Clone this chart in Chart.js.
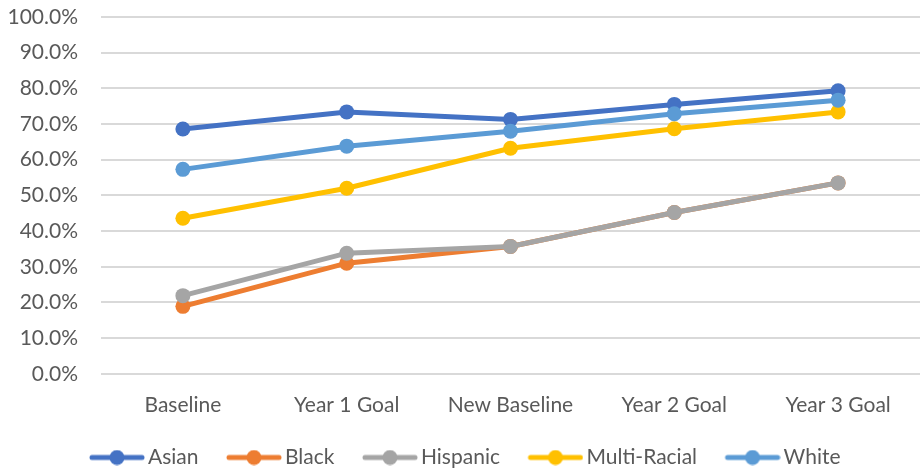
<!DOCTYPE html>
<html>
<head>
<meta charset="utf-8">
<script src="https://cdn.jsdelivr.net/npm/chart.js@4"></script>
<style>
  html, body { margin: 0; padding: 0; background: #fff; }
  #wrap { width: 920px; height: 473px; }
</style>
</head>
<body>
<div id="wrap"><canvas id="line_chart" width="920" height="473"></canvas></div>
<script>
// chart data
const categories = ["Baseline", "Year 1 Goal", "New Baseline", "Year 2 Goal", "Year 3 Goal"];
const series_names = ["Asian", "Black", "Hispanic", "Multi-Racial", "White"];
const asian_values = [68.6, 73.4, 71.3, 75.5, 79.3];
const black_values = [18.9, 31.0, 35.7, 45.2, 53.5];
const hispanic_values = [21.9, 33.8, 35.7, 45.2, 53.5];
const multi_values = [43.6, 52.0, 63.2, 68.7, 73.4];
const white_values = [57.3, 63.8, 68.0, 72.9, 76.7];
const y_ticks = [0, 10, 20, 30, 40, 50, 60, 70, 80, 90, 100];

const colors = ["#4472C4", "#ED7D31", "#A5A5A5", "#FFC000", "#5B9BD5"];
const all_values = [asian_values, black_values, hispanic_values, multi_values, white_values];

const font_family = 'Lato, "Open Sans", sans-serif';
const font_size = 21;

// legend marker: line with a dot, shifted right so it sits next to the text
const LEG_BOX = 58;
function legendMarker(color) {
  const c = document.createElement("canvas");
  c.width = LEG_BOX + 15;
  c.height = 16;
  const g = c.getContext("2d");
  const x0 = LEG_BOX - 41, x1 = x0 + 56;
  g.strokeStyle = color;
  g.lineWidth = 5;
  g.lineCap = "round";
  g.beginPath();
  g.moveTo(x0 + 3, 8);
  g.lineTo(x1 - 3, 8);
  g.stroke();
  g.fillStyle = color;
  g.beginPath();
  g.arc((x0 + x1) / 2, 8, 7.5, 0, Math.PI * 2);
  g.fill();
  return c;
}

const datasets = series_names.map((name, i) => ({
  label: name,
  data: all_values[i],
  borderColor: colors[i],
  backgroundColor: colors[i],
  borderWidth: 5,
  pointRadius: 7.5,
  pointHoverRadius: 7.5,
  pointBorderWidth: 0,
  fill: false,
  tension: 0,
  order: series_names.length - i,
}));

const ctx = document.getElementById("line_chart").getContext("2d");
const my_chart = new Chart(ctx, {
  type: "line",
  data: { labels: categories, datasets: datasets },
  options: {
    responsive: false,
    animation: false,
    layout: { autoPadding: false, padding: { top: 0, right: 0, bottom: -5, left: 0 } },
    scales: {
      x: {
        offset: true,
        grid: { display: false },
        border: { display: false },
        afterFit: (axis) => { axis.paddingLeft = 0; axis.paddingRight = 0; },
        ticks: { color: "#595959", font: { family: font_family, size: font_size }, padding: 11 },
      },
      y: {
        min: 0,
        max: 100,
        afterBuildTicks: (axis) => { axis.ticks = y_ticks.map((v) => ({ value: v })); },
        afterFit: (axis) => { axis.width = 101; axis.paddingTop = 17; axis.paddingBottom = 0; },
        grid: { color: "#d9d9d9", lineWidth: 2, drawTicks: false },
        border: { display: false },
        ticks: {
          color: "#595959",
          font: { family: font_family, size: font_size },
          padding: 23,
          callback: (v) => v.toFixed(1) + "%",
        },
      },
    },
    plugins: {
      tooltip: { enabled: false },
      legend: {
        position: "bottom",
        labels: {
          color: "#595959",
          font: { family: font_family, size: font_size },
          usePointStyle: true,
          pointStyleWidth: LEG_BOX,
          boxHeight: 16,
          padding: 18,
          generateLabels: (chart) => chart.data.datasets.map((ds, i) => ({
            text: ds.label,
            pointStyle: legendMarker(colors[i]),
            fillStyle: colors[i],
            strokeStyle: colors[i],
            fontColor: "#595959",
            lineWidth: 0,
            hidden: false,
            datasetIndex: i,
          })),
        },
      },
    },
  },
});
</script>
</body>
</html>
